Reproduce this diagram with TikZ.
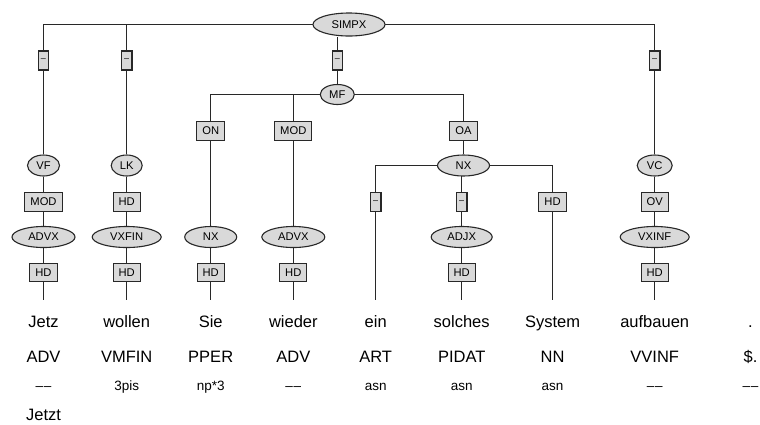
\documentclass[tikz,border=0pt]{standalone}
\usepackage{fontspec}
\setmainfont{Liberation Sans}
\usetikzlibrary{shapes.geometric}
\pgfdeclarelayer{bg}
\pgfsetlayers{bg,main}
\definecolor{nodefill}{RGB}{217,217,217}
\definecolor{linec}{RGB}{40,40,40}
\newcommand{\ddash}{–\kern0.8pt–}
\tikzset{
  ell/.style={ellipse, draw=linec, fill=nodefill, line width=1.1pt, minimum height=21pt, inner sep=0pt, font=\fontsize{11.2}{13}\selectfont},
  lab/.style={rectangle, draw=linec, fill=nodefill, line width=1.1pt, minimum height=18.5pt, inner ysep=0pt, inner xsep=5.5pt, font=\fontsize{11.2}{13}\selectfont},
  dsh/.style={rectangle, draw=linec, fill=nodefill, line width=1.1pt, minimum height=19pt, minimum width=10.5pt, inner sep=0pt, font=\fontsize{9}{11}\selectfont},
  word/.style={anchor=base, inner sep=0pt, text height=27.5pt, font=\fontsize{16.5}{19}\selectfont},
  postag/.style={anchor=base, inner sep=0pt, font=\fontsize{16.5}{19}\selectfont},
  morph/.style={anchor=base, inner sep=0pt, font=\fontsize{13.5}{16}\selectfont},
  conn/.style={draw=linec, line width=1.1pt}
}
\begin{document}
\begin{tikzpicture}[x=1pt,y=-1pt]
\useasboundingbox (0,0) rectangle (760,424);
% top
\node[ell, minimum width=72pt, minimum height=23pt] (simpx) at (349,24.5) {SIMPX};
\node[dsh] (d1) at (43.5,60.5) {–};
\node[dsh] (d2) at (126.7,60.5) {–};
\node[dsh] (d3) at (337.3,60.5) {–};
\node[dsh] (d4) at (654.7,60.5) {–};
\node[ell, minimum width=34pt, minimum height=20pt] (mf) at (337.3,94.5) {MF};
\node[lab] (on) at (210.7,131) {ON};
\node[lab] (mod2) at (293.3,131) {MOD};
\node[lab] (oa) at (463.5,131) {OA};
% row 165
\node[ell, minimum width=32pt] (vf) at (43.5,165.5) {VF};
\node[ell, minimum width=31pt] (lk) at (126.7,165.5) {LK};
\node[ell, minimum width=52pt] (nx3) at (463.5,165.5) {NX};
\node[ell, minimum width=35pt] (vc) at (654.7,165.5) {VC};
% row 202
\node[lab] (mod1) at (43.5,202) {MOD};
\node[lab] (hdlk) at (126.7,202) {HD};
\node[dsh] (d5) at (375.7,202) {–};
\node[dsh] (d6) at (461.7,202) {–};
\node[lab] (hdsys) at (552.5,202) {HD};
\node[lab] (ov) at (654.7,202) {OV};
% row 237
\node[ell, minimum width=63pt] (advx1) at (43.5,237) {ADVX};
\node[ell, minimum width=69pt] (vxfin) at (126.7,237) {VXFIN};
\node[ell, minimum width=52pt] (nx2) at (210.7,237) {NX};
\node[ell, minimum width=63pt] (advx2) at (293.3,237) {ADVX};
\node[ell, minimum width=61pt] (adjx) at (461.7,237) {ADJX};
\node[ell, minimum width=69pt] (vxinf) at (654.7,237) {VXINF};
% row 272
\node[lab] (hd1) at (43.5,272.5) {HD};
\node[lab] (hd2) at (126.7,272.5) {HD};
\node[lab] (hd3) at (210.7,272.5) {HD};
\node[lab] (hd4) at (293.3,272.5) {HD};
\node[lab] (hd6) at (461.7,272.5) {HD};
\node[lab] (hd8) at (654.7,272.5) {HD};
% words
\node[word] (w1) at (43.5,327.5) {Jetz};
\node[word] (w2) at (126.7,327.5) {wollen};
\node[word] (w3) at (210.7,327.5) {Sie};
\node[word] (w4) at (293.3,327.5) {wieder};
\node[word] (w5) at (375.7,327.5) {ein};
\node[word] (w6) at (461.7,327.5) {solches};
\node[word] (w7) at (552.5,327.5) {System};
\node[word] (w8) at (654.7,327.5) {aufbauen};
\node[word] (w9) at (750.5,327.5) {.};
% POS
\node[postag] (p1) at (43.5,362) {ADV};
\node[postag] (p2) at (126.7,362) {VMFIN};
\node[postag] (p3) at (210.7,362) {PPER};
\node[postag] (p4) at (293.3,362) {ADV};
\node[postag] (p5) at (375.7,362) {ART};
\node[postag] (p6) at (461.7,362) {PIDAT};
\node[postag] (p7) at (552.5,362) {NN};
\node[postag] (p8) at (654.7,362) {VVINF};
\node[postag] (p9) at (750.5,362) {\$.};
% morph
\node[morph] (m1) at (43.5,390) {\ddash};
\node[morph] (m2) at (126.7,390) {3pis};
\node[morph] (m3) at (210.7,390) {np*3};
\node[morph] (m4) at (293.3,390) {\ddash};
\node[morph] (m5) at (375.7,390) {asn};
\node[morph] (m6) at (461.7,390) {asn};
\node[morph] (m7) at (552.5,390) {asn};
\node[morph] (m8) at (654.7,390) {\ddash};
\node[morph] (m9) at (750.5,390) {\ddash};
\node[postag] (corr) at (43.5,420) {Jetzt};
% connectors
\begin{pgfonlayer}{bg}
\draw[conn] (d1) |- (simpx.center) -| (d4);
\draw[conn] (d2) -- (d2 |- simpx.center);
\draw[conn] (d3) -- (d3 |- simpx.south);
\draw[conn] (d1) -- (vf) -- (mod1) -- (advx1) -- (hd1) -- (w1);
\draw[conn] (d2) -- (lk) -- (hdlk) -- (vxfin) -- (hd2) -- (w2);
\draw[conn] (d3) -- (mf);
\draw[conn] (on) |- (mf.center) -| (oa);
\draw[conn] (mod2) -- (mod2 |- mf.center);
\draw[conn] (on) -- (nx2) -- (hd3) -- (w3);
\draw[conn] (mod2) -- (advx2) -- (hd4) -- (w4);
\draw[conn] (oa) -- (nx3);
\draw[conn] (d5) |- (nx3.center) -| (hdsys);
\draw[conn] (d6) -- (d6 |- nx3.center);
\draw[conn] (d5) -- (w5);
\draw[conn] (d6) -- (adjx) -- (hd6) -- (w6);
\draw[conn] (hdsys) -- (w7);
\draw[conn] (d4) -- (vc) -- (ov) -- (vxinf) -- (hd8) -- (w8);
\end{pgfonlayer}
\end{tikzpicture}
\end{document}
